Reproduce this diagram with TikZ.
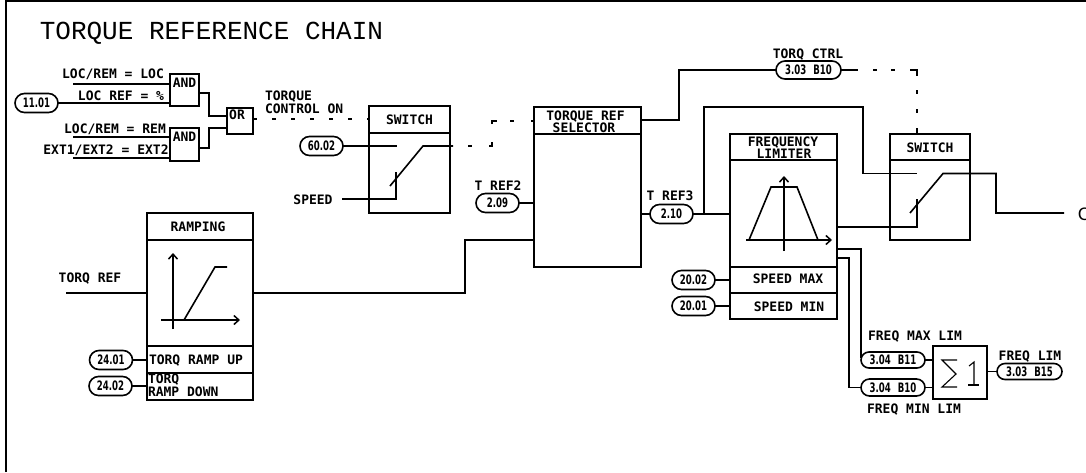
\documentclass[tikz,border=0pt]{standalone}
\usepackage{fontspec}
\usetikzlibrary{shapes.misc,arrows.meta}
\newfontfamily\titlefont{Liberation Mono}
\newfontfamily\lblfont{DejaVu Sans Mono Bold}
\newfontfamily\pillfont[FakeStretch=0.66]{DejaVu Sans Bold}
\newfontfamily\endfont{Liberation Sans}
\newcommand{\blk}[5]{\node[block,minimum width={(#4-#2)*1pt},minimum height={(#5-#3)*1pt}] (#1) at (#2,#3) {};}
\tikzset{
  x=1pt,y=-1pt,
  every path/.style={line width=1.6pt,line join=miter},
  block/.style={draw,anchor=north west,inner sep=0pt,outer sep=0pt},
  lbl/.style={font=\fontsize{13}{13}\lblfont,inner sep=0pt,outer sep=0pt,text=black,text height=9.5pt,text depth=0pt},
  lblw/.style={lbl,anchor=west},
  pill/.style={draw,rounded rectangle,inner sep=0pt,outer sep=0pt,minimum height=19pt,font=\fontsize{13}{13}\pillfont,text height=9.5pt,text depth=0pt},
  thinline/.style={line width=1.1pt},
  axis/.style={-{Straight Barb[length=5pt,width=9pt,line width=1.5pt]}},
}
\newcommand{\gap}{\hspace{7pt}}
\begin{document}
\begin{tikzpicture}
\useasboundingbox (0,0) rectangle (1086,472);
% frame
\coordinate (frTL) at (6,1);
\coordinate (frTR) at (1086,1);
\coordinate (frBL) at (6,472);
\draw (frBL) -- (frTL) -- (frTR);
\node[anchor=west,font=\fontsize{26}{26}\titlefont,inner sep=0pt] (title) at (39,33) {TORQUE REFERENCE CHAIN};
% logic
\blk{and1}{170}{74}{199}{106}
\blk{and2}{170}{128}{199}{161}
\blk{orb}{227}{108}{253}{134}
\node[lbl] (andt1) at (184.5,82.5) {AND};
\node[lbl] (andt2) at (184.5,136.5) {AND};
\node[lbl] (ort) at (237,115) {OR};
\node[lbl] (t1) at (113,74) {LOC/REM = LOC};
\node[lbl] (t2) at (121,96) {LOC REF = \%};
\node[lbl] (t3) at (115,129) {LOC/REM = REM};
\node[lbl] (t4) at (106,150) {EXT1/EXT2 = EXT2};
\node[pill,minimum width=43pt] (p1101) at (36.5,103) {11.01};
\coordinate (i1) at (73,84);
\coordinate (i3) at (73,137);
\coordinate (i4) at (73,158);
\draw (i1) -- (and1.west |- i1);
\draw (p1101.east) -- (and1.west |- p1101.east);
\draw (i3) -- (and2.west |- i3);
\draw (i4) -- (and2.west |- i4);
\coordinate (a1o) at (199,93);
\coordinate (a2o) at (199,148);
\draw (a1o) -| (209,116) -- (227,116);
\draw (a2o) -| (209,128) -- (227,128);
\node[lblw] (tc1) at (265,96) {TORQUE};
\node[lblw] (tc2) at (265,109) {CONTROL ON};
% switch 1
\blk{sw1}{369}{106}{450}{213}
\coordinate (sw1d) at (369,133);
\draw (sw1d) -- (sw1d -| sw1.east);
\node[lbl] (sw1t) at (409.5,120) {SWITCH};
\draw[dash pattern=on 4pt off 15pt] (orb.east |- 0,119) -- (sw1.west |- 0,119);
\node[pill,minimum width=43pt] (p6002) at (321.5,146) {60.02};
\coordinate (sw1in) at (397,146);
\draw (p6002.east) -- (sw1in);
\node[lbl] (speed) at (313,200) {SPEED};
\coordinate (spd) at (342,199);
\coordinate (sw1c) at (396,172);
\draw (spd) -- (396,199) -- (sw1c);
\coordinate (bl1) at (390,186);
\coordinate (bl2) at (423,146);
\draw (bl1) -- (bl2) -- (453,146);
\coordinate (d1) at (453,146);
\draw[dash pattern=on 0pt off 15pt on 4pt off 17pt on 7pt off 18pt on 8pt off 13pt on 4pt off 17pt on 5pt off 20pt] (d1) -- (492,146) -- (492,121) -- (534,121);
% selector
\blk{sel}{534}{107}{641}{267}
\coordinate (seld) at (534,134);
\draw (seld) -- (seld -| sel.east);
\node[lbl] (selt1) at (585.5,115.5) {TORQUE REF};
\node[lbl] (selt2) at (584,128) {SELECTOR};
\node[lbl] (tr2) at (498,186) {T REF2};
\node[pill,minimum width=43pt] (p209) at (497.5,203) {2.09};
\draw (p209.east) -- (sel.west |- p209.east);
\node[lbl] (tr3) at (670,196) {T REF3};
\node[pill,minimum width=43pt] (p210) at (671.5,214) {2.10};
\draw (sel.east |- p210.west) -- (p210.west);
% ramping
\blk{ramp}{147}{213}{253}{400}
\coordinate (r1) at (147,240);
\coordinate (r2) at (147,346);
\coordinate (r3) at (147,373);
\draw (r1) -- (r1 -| ramp.east);
\draw (r2) -- (r2 -| ramp.east);
\draw (r3) -- (r3 -| ramp.east);
\node[lbl] (rampt) at (198,227) {RAMPING};
\node[lbl] (tqr) at (90,278) {TORQ REF};
\coordinate (tqi) at (66,293);
\draw (tqi) -- (ramp.west |- tqi);
\coordinate (ro) at (253,293);
\draw (ro) -- (465,293) -- (465,240) -- (sel.west |- 0,240);
\draw[axis] (173,329) -- (173,253);
\draw[axis] (161,320) -- (240,320);
\draw (184,320) -- (215,267) -- (227,267);
\node[pill,minimum width=43pt] (p2401) at (111,360) {24.01};
\node[pill,minimum width=43pt] (p2402) at (110.5,386) {24.02};
\draw (p2401.east) -- (ramp.west |- p2401.east);
\draw (p2402.east) -- (ramp.west |- p2402.east);
\node[lblw] (ru) at (149,360) {TORQ RAMP UP};
\node[lblw] (rd1) at (148,379) {TORQ};
\node[lblw] (rd2) at (148,392) {RAMP DOWN};
% torq ctrl
\node[lbl] (tqc) at (808,54) {TORQ CTRL};
\node[pill,minimum width=65pt,minimum height=18pt] (p303b10) at (808.5,70) {3.03\gap B10};
\coordinate (so) at (641,120);
\draw (so) -- (679,120) -- (679,70) -- (p303b10.west);
% switch 2
\blk{sw2}{890}{134}{970}{240}
\coordinate (sw2d) at (890,160);
\draw (sw2d) -- (sw2d -| sw2.east);
\node[lbl] (sw2t) at (930,148) {SWITCH};
\draw[dash pattern=on 17pt off 15pt on 4pt off 14pt on 4pt off 15pt on 13pt off 14pt on 4pt off 15pt on 4pt off 15pt on 8pt off 20pt] (p303b10.east) -- (917,70) -- (917,134);
% frequency limiter
\blk{fl}{730}{134}{837}{319}
\coordinate (fl1) at (730,160);
\coordinate (fl2) at (730,267);
\coordinate (fl3) at (730,293);
\draw (fl1) -- (fl1 -| fl.east);
\draw (fl2) -- (fl2 -| fl.east);
\draw (fl3) -- (fl3 -| fl.east);
\node[lbl] (flt1) at (783,141.5) {FREQUENCY};
\node[lbl] (flt2) at (784,153.5) {LIMITER};
\draw (749,240) -- (771,187) -- (797,187) -- (818,240);
\draw[axis] (746,240) -- (832,240);
\draw[axis] (784,251) -- (784,176);
\draw (p210.east) -- (fl.west |- p210.east);
\coordinate (br) at (704,214);
\draw (br) -- (704,107) -- (863,107) -- (863,173.5) -- (917,173.5);
\coordinate (flo) at (837,227);
\coordinate (sw2c) at (917,199);
\draw (flo) -- (917,227) -- (sw2c);
\coordinate (c1) at (910,213);
\coordinate (c2) at (943,173.5);
\coordinate (outend) at (1064,213);
\draw (c1) -- (c2) -- (996,173.5) -- (996,213) -- (outend);
\node[anchor=west,inner sep=0pt,font=\fontsize{18}{18}\endfont] (outc) at (1077,214) {C};
\node[lbl] (smax) at (788,279) {SPEED MAX};
\node[lbl] (smin) at (789,307) {SPEED MIN};
\node[pill,minimum width=43pt] (p2002) at (693.5,280) {20.02};
\node[pill,minimum width=43pt] (p2001) at (693.5,306) {20.01};
\draw (p2002.east) -- (fl.west |- p2002.east);
\draw (p2001.east) -- (fl.west |- p2001.east);
% sum
\node[pill,minimum width=64pt,minimum height=16pt] (b11) at (893,360) {3.04\gap B11};
\node[pill,minimum width=64pt,minimum height=17pt] (b10) at (893,387.5) {3.04\gap B10};
\blk{sum}{933}{346}{987}{399}
\node[pill,minimum width=65pt,minimum height=16pt] (b15) at (1029.5,371.5) {3.03\gap B15};
\draw (b11.east) -- (sum.west |- b11.east);
\draw (b10.east) -- (sum.west |- b10.east);
\draw (sum.east |- b15.west) -- (b15.west);
\draw[thinline] (957,360) -- (942,360) -- (956,374) -- (942,387) -- (957,387);
\draw[thinline] (969,366) -- (974,362) -- (974,385);
\draw[thinline] (968,385) -- (979,385);
\node[lbl] (fmax) at (915,336) {FREQ MAX LIM};
\node[lbl] (fmin) at (914,409) {FREQ MIN LIM};
\node[lbl] (flim) at (1030,356) {FREQ LIM};
\coordinate (fo1) at (837,249);
\coordinate (fo2) at (837,258);
\draw (fo1) -- (861,249) -- (861,358);
\draw (fo2) -- (849,258) -- (849,387.5) -- (b10.west);
\end{tikzpicture}
\end{document}
